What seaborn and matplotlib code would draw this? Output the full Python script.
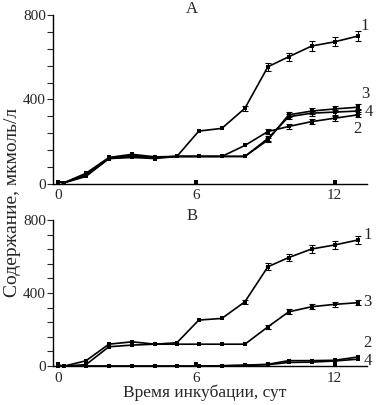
"""
Содержание в среде за время инкубации, панели A и В
"""

import numpy as np
import pandas as pd
import matplotlib
matplotlib.use("Agg")
import matplotlib.pyplot as plt
import seaborn as sns
from matplotlib.ticker import MultipleLocator

# days of incubation
days = [0, 0.25, 1.2, 2.2, 3.2, 4.2, 5.15, 6.1, 7.1, 8.1, 9.1, 10, 11, 12, 13]
ctrl_days = [0, 6, 12]

# panel A
a1 = [10, 5, 35, 120, 130, 125, 130, 250, 263, 358, 555, 602, 653, 673, 700]
a2 = [10, 5, 45, 120, 135, 125, 130, 130, 130, 182, 248, 272, 295, 311, 327]
a3 = [10, 5, 40, 120, 125, 120, 130, 130, 130, 130, 208, 327, 345, 355, 363]
a4 = [10, 5, 50, 125, 140, 128, 130, 130, 130, 130, 215, 318, 335, 340, 345]
a1_err = [0, 0, 0, 0, 0, 0, 0, 0, 0, 12, 18, 20, 22, 22, 22]
a2_err = [0, 0, 0, 0, 0, 0, 0, 0, 0, 0, 10, 12, 12, 12, 12]
a3_err = [0, 0, 0, 0, 0, 0, 0, 0, 0, 0, 10, 12, 14, 14, 14]
a4_err = [0, 0, 0, 0, 0, 0, 0, 0, 0, 0, 10, 12, 12, 12, 12]
a_ctrl = [10, 10, 10]

# panel B
b1 = [5, 0, 29, 120, 133, 120, 128, 252, 261, 352, 544, 594, 641, 663, 690]
b2 = [0, 0, 0, 0, 0, 0, 0, 0, 2, 5, 10, 30, 30, 32, 50]
b3 = [5, 0, 8, 106, 115, 120, 120, 120, 120, 120, 215, 297, 325, 338, 347]
b4 = [0, 0, 0, 0, 0, 0, 0, 0, 2, 4, 8, 20, 22, 28, 38]
b1_err = [0, 0, 0, 0, 0, 0, 0, 0, 0, 12, 18, 20, 22, 22, 22]
b3_err = [0, 0, 0, 0, 0, 0, 0, 0, 0, 0, 10, 14, 14, 14, 14]
b_ctrl = [10, 10, 10]

sns.set_style("ticks")
plt.rcParams['font.family'] = ['Liberation Serif', 'DejaVu Serif']

fig = plt.figure(figsize=(3.78, 4.05), dpi=100)
axA = fig.add_axes([0.140, 0.546, 0.831, 0.417])
axB = fig.add_axes([0.140, 0.096, 0.831, 0.361])


def draw_panel(ax, series, errs, ctrl, title, title_y, labels):
	for vals, err in zip(series, errs):
		df = pd.DataFrame({'day': days, 'val': vals})
		sns.lineplot(x='day', y='val', data=df, ax=ax, color='black',
					 linewidth=1.2, marker='s', markersize=3.2,
					 markeredgewidth=0, clip_on=False)
		if err is not None:
			e = np.array(err)
			m = e > 0
			ax.errorbar(np.array(days)[m], np.array(vals)[m], yerr=e[m],
						fmt='none', ecolor='black', elinewidth=0.8,
						capsize=2.3, capthick=0.8, clip_on=False)
	ax.scatter(ctrl_days, ctrl, marker='s', s=10, color='black',
			   linewidths=0, clip_on=False, zorder=3)

	for txt, (x, y) in labels.items():
		ax.text(x, y, txt, fontsize=12, ha='left', va='center')

	# panel letter sits a little left of the centre, just above the axes
	ax.text(5.8, title_y, title, fontsize=12, ha='center', va='center',
			transform=ax.get_xaxis_transform())

	ax.set_xlim(-0.23, 13.4)
	ax.set_ylim(0, 800)
	ax.set_xticks([0, 6, 12])
	ax.set_yticks([0, 400, 800])
	ax.yaxis.set_minor_locator(MultipleLocator(80))
	ax.tick_params(axis='x', length=0, labelsize=11, pad=4)
	ax.tick_params(axis='y', which='both', length=4, width=0.8,
				   direction='out', labelsize=11, pad=1)
	ax.set_xlabel('')
	ax.set_ylabel('')
	sns.despine(ax=ax)
	for s in ['left', 'bottom']:
		ax.spines[s].set_linewidth(1.0)
		ax.spines[s].set_color('black')


draw_panel(axA, [a1, a2, a3, a4], [a1_err, a2_err, a3_err, a4_err], a_ctrl,
		   'A', 1.035,
		   {'1': (13.1, 748), '3': (13.15, 425), '4': (13.3, 342),
			'2': (12.8, 262)})
draw_panel(axB, [b1, b2, b3, b4], [b1_err, None, b3_err, None], b_ctrl,
		   'В', 1.03,
		   {'1': (13.25, 715), '3': (13.25, 350), '2': (13.25, 125),
			'4': (13.25, 30)})

fig.text(13 / 378, 1 - 202 / 405, 'Содержание, мкмоль/л', rotation=90,
		 ha='center', va='center', fontsize=14)
fig.text(205 / 378, 1 - 393 / 405, 'Время инкубации, сут',
		 ha='center', va='center', fontsize=12.5)

fig.savefig('out.png', dpi=100)
